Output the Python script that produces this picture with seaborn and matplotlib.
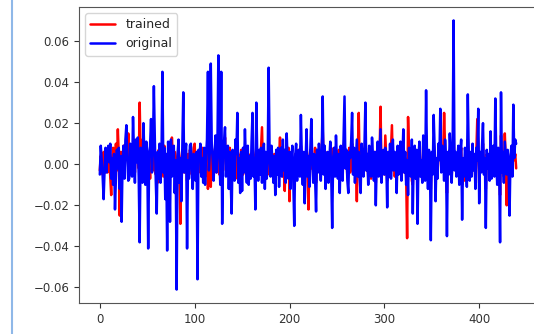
import matplotlib
matplotlib.use("Agg")
import matplotlib.pyplot as plt
from matplotlib.lines import Line2D
import numpy as np
import seaborn as sns

# values, in units of 1e-3
original_milli = [
    -5, 9, 2, -6, -17, -3, 8, -4, 6, 9,
    1, 10, -7, 3, -10, 5, -22, -6, 7, -2,
    8, -12, 4, -28, 2, 9, -7, 12, 19, 3,
    -8, -7, 10, 4, -6, 23, 6, -9, 12, 1,
    13, -6, -38, 8, 2, -9, 20, 4, -10, 11,
    6, -41, 3, 9, 22, -4, 7, 38, 12, -8,
    -24, 6, -7, 10, -9, 2, 45, -4, 8, -17,
    5, -42, 11, 3, -28, 12, -6, 4, 9, -14,
    2, -61, 5, 12, -9, 3, -18, 8, 35, -4,
    6, 10, -41, 2, -7, 9, 10, -3, -12, 5,
    1, -8, 6, -56, 7, 2, 10, -6, 3, -9,
    8, -10, 4, 12, 45, -3, 6, 49, 10, 2,
    -8, 5, 14, -4, 9, 53, 6, -10, 45, -29,
    4, 11, 18, -6, 3, 9, -12, 6, -8, -24,
    7, 2, -8, 12, 5, 25, -9, 3, -14, 6,
    -13, 8, -4, 17, 2, -9, 9, -10, 4, -7,
    11, 25, -6, 3, -22, 30, 4, -8, 7, -5,
    8, -9, 3, 10, -12, 6, -7, 2, 47, 6,
    -6, 9, 2, -9, 4, -15, 7, -5, 8, -11,
    3, 8, -6, 12, -3, 7, -9, 15, 2, -7,
    6, -12, 3, 9, -8, -30, 4, 10, -8, 2,
    7, -6, 24, 3, -10, 6, -19, 2, 17, -6,
    4, -11, 8, 22, 2, -9, 5, -7, -23, 7,
    -4, 10, 2, -8, 6, 33, -5, 9, -12, 4,
    6, -9, 2, 11, -5, -31, 3, 8, -6, 14,
    2, -7, 5, -14, 9, 3, -8, 12, 33, -2,
    7, -8, -14, 6, 3, 11, 25, -5, 8, -9,
    2, 12, -6, 6, -7, -14, 10, 3, -6, 8,
    30, -3, 5, -10, 9, 2, -6, 13, 4, -8,
    6, -20, 3, 11, -6, 5, 17, -9, 2, 7,
    -5, 8, 3, -21, 6, -6, 10, -7, 4, 12,
    -3, 6, 2, -14, 9, -5, 4, 11, -8, 3,
    17, -4, 6, -10, 2, -15, 8, 3, -6, 12,
    -24, 5, 9, -7, 7, -29, 4, 11, -6, 2,
    -9, 14, 5, -8, 36, 2, -12, 7, 3, -37,
    6, -5, 24, 8, -18, 3, -7, 10, 2, 27,
    -4, 9, 5, -8, 12, 3, -35, 6, -5, 15,
    4, -9, 8, 70, -3, 6, -6, 2, 9, -10,
    5, 12, -27, 3, -6, 8, 2, -11, 34, 4,
    -8, 6, -6, 10, -3, 5, -12, 8, 2, 27,
    -19, 6, -4, 9, 20, -5, 3, -31, 7, -2,
    5, -8, 16, -7, 4, 9, -6, 32, 3, -10,
    8, 2, -38, 35, -4, 6, -9, 11, 3, -5,
    7, -2, -25, 4, 9, -6, 29, 3, 12, 10,
]

trained_milli = [
    -3, 4, 1, -5, 6, -2, 3, 7, -4, 2,
    5, -6, -15, 3, 8, -4, 2, 10, -3, 17,
    4, -25, 6, -8, 3, 9, -2, 5, 14, 2,
    15, -3, 6, 9, -5, 8, 3, -4, 10, 2,
    7, -2, 30, 5, -3, 12, 4, -6, 8, 1,
    -4, 6, 3, -7, 9, 2, -3, 10, 5, -5,
    2, -9, 7, 3, -4, 8, 1, -6, 9, 2,
    -3, 5, -8, 4, 7, -2, 13, 3, -5, 6,
    -2, -9, 4, 8, -6, -29, 3, 7, 2, -4,
    6, 3, -8, 5, -2, 7, 4, -5, 2, 8,
    10, -3, 5, -7, 2, 6, -4, 3, 8, -2,
    4, -6, 2, 7, -12, 3, 5, -11, 8, 2,
    -3, 6, 9, -4, 2, 7, -5, 3, 10, -8,
    4, 6, 13, -3, 5, 2, -6, 8, 3, -5,
    6, 2, -4, 9, 3, -7, 5, 1, -4, 7,
    3, -5, 6, 2, -3, 8, 4, -6, 2, 5,
    -3, 9, 4, -5, 2, 7, -4, 3, 6, -2,
    8, 18, -3, 5, -7, 4, 2, -5, 9, 3,
    -4, 6, 2, -6, 5, -8, 3, 7, -3, 4,
    13, -2, 5, -6, 3, -13, 6, 2, -4, 8,
    -18, 4, 6, -3, 2, -9, 5, 3, -5, 7,
    2, -4, 9, 3, -6, 5, -8, 2, 6, -3,
    -22, 4, 7, -2, 5, -6, 3, 8, -9, 2,
    6, -3, 4, -5, 9, 17, 3, -4, 6, 2,
    -6, 5, 3, -4, 8, -11, 2, 6, -3, 5,
    3, -5, 7, -8, 4, 2, -3, 9, 12, -2,
    5, -6, 3, 8, -4, 6, 10, -3, 4, -5,
    2, -18, 6, 25, -3, -8, 7, 2, -5, 6,
    12, -3, 4, -6, 8, 2, -7, 5, 3, -4,
    6, -9, 2, 7, -3, 5, 28, -4, 3, 6,
    -5, 14, 3, -8, 5, 2, -4, 7, 19, -3,
    5, -6, 3, -9, 6, -3, 4, 8, -5, 2,
    9, -4, 3, -6, -36, 23, 5, -3, 6, -8,
    -10, 4, 7, -2, 5, -12, 3, 8, -4, 2,
    -5, 9, 3, -4, 14, 2, -6, 5, 3, -12,
    4, -3, 10, 6, -8, 2, -5, 7, 3, 12,
    -3, 6, 4, 25, 8, 2, -14, 5, -3, 7,
    3, -6, 5, 16, -2, 4, -5, 2, 6, -7,
    4, 8, -10, 2, -5, -8, 3, -6, 12, 4,
    -5, 3, -4, 7, -2, 4, -8, 6, 22, 10,
    -9, 4, -3, 6, 10, -4, 2, -12, 5, -2,
    3, -6, 8, -4, 2, 6, -5, 12, 3, -7,
    5, 2, -15, 14, -3, 4, -6, 15, 2, -20,
    5, -2, -9, 3, 6, -4, 10, 2, 5, -2,
]

original = np.array(original_milli) / 1000.0
trained = np.array(trained_milli) / 1000.0
steps = np.arange(len(original))

sns.set_style("ticks")
plt.rcParams['font.family'] = ['DejaVu Sans']

fig = plt.figure(figsize=(5.34, 3.34), dpi=100)
ax = fig.add_axes([79 / 534, 31 / 334, 458 / 534, 296 / 334])

sns.lineplot(x=steps, y=trained, color="red", label="trained", linewidth=1.8, ax=ax)
sns.lineplot(x=steps, y=original, color="blue", label="original", linewidth=1.8, ax=ax)

ax.set_xticks([0, 100, 200, 300, 400])
ax.set_yticks([-0.06, -0.04, -0.02, 0.0, 0.02, 0.04, 0.06])
ax.set_yticklabels(["\u22120.06", "\u22120.04", "\u22120.02", "0.00", "0.02", "0.04", "0.06"])
ax.tick_params(labelsize=8.5, colors="#333333", labelcolor="#333333")
for s in ax.spines.values():
    s.set_color("#555555")

ax.legend(loc="upper left", fontsize=9, frameon=True, edgecolor="#cccccc",
          handlelength=2.0, borderpad=0.4)

# blue window border at the left edge of the screenshot
fig.add_artist(Line2D([12 / 534, 12 / 534], [0, 1], color="#8fb8e8", linewidth=1.5))

fig.savefig("out.png", dpi=100)
